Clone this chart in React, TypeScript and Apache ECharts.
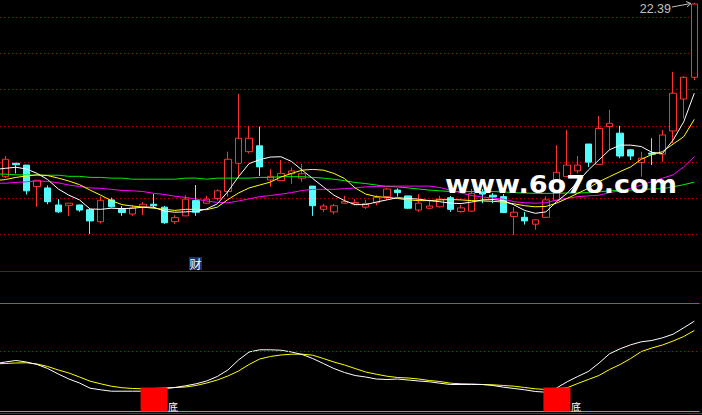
import React, { useEffect, useRef } from 'react';
import * as echarts from 'echarts';

// 66 trading days shown
const days: string[] = [
  'd01','d02','d03','d04','d05','d06','d07','d08','d09','d10',
  'd11','d12','d13','d14','d15','d16','d17','d18','d19','d20',
  'd21','d22','d23','d24','d25','d26','d27','d28','d29','d30',
  'd31','d32','d33','d34','d35','d36','d37','d38','d39','d40',
  'd41','d42','d43','d44','d45','d46','d47','d48','d49','d50',
  'd51','d52','d53','d54','d55','d56','d57','d58','d59','d60',
  'd61','d62','d63','d64','d65','d66'
];

const opens = [
  17.60,17.97,17.92,17.33,17.29,16.82,16.81,16.82,16.69,16.36,
  16.96,16.70,16.57,16.76,16.84,16.76,16.36,16.52,16.94,16.87,
  17.00,17.19,17.97,18.29,18.45,17.51,17.49,17.68,17.56,17.34,
  16.70,16.63,16.87,16.85,16.76,16.88,17.05,17.23,17.07,16.68,
  16.73,16.77,17.02,16.64,16.65,17.19,17.09,17.05,16.50,16.48,
  16.29,16.48,16.94,17.60,17.76,18.50,17.94,18.98,18.80,18.34,
  17.99,18.25,18.22,18.86,19.74,20.34
];
const closes = [
  18.08,17.93,17.21,17.50,16.91,16.63,16.87,16.68,16.38,16.95,
  16.77,16.61,16.74,16.84,16.80,16.33,16.47,16.98,16.62,16.98,
  17.21,18.08,18.66,18.66,17.87,17.61,17.69,17.76,17.68,16.80,
  16.79,16.80,16.91,16.89,16.86,17.03,17.26,17.16,16.73,16.87,
  16.79,16.98,16.70,16.74,17.14,17.12,17.04,16.61,16.62,16.38,
  16.41,16.96,17.72,17.92,17.92,18.00,18.93,19.07,18.17,18.17,
  18.11,18.22,18.75,19.90,20.34,22.36
];
const lows = [
  17.56,17.69,17.11,16.77,16.84,16.60,16.52,16.63,16.02,16.31,
  16.75,16.52,16.52,16.54,16.73,16.30,16.30,16.52,16.52,16.85,
  16.94,17.05,17.56,18.24,17.62,17.32,17.49,17.40,17.46,16.52,
  16.63,16.56,16.86,16.81,16.71,16.81,16.96,17.05,16.71,16.63,
  16.72,16.75,16.63,16.61,16.64,16.87,16.87,16.60,15.99,16.28,
  16.14,16.47,16.93,17.59,17.69,17.87,17.94,18.34,18.11,18.06,
  17.60,17.92,18.01,18.52,19.21,20.26
];
const highs = [
  18.17,17.98,17.92,17.51,17.36,16.98,16.87,16.83,16.72,17.05,
  17.02,16.79,16.82,16.90,17.12,16.79,16.54,17.09,17.37,17.07,
  17.25,18.29,19.88,19.00,18.98,17.81,18.06,17.85,17.95,17.34,
  16.85,16.85,17.07,16.98,16.96,17.09,17.29,17.28,17.07,17.12,
  16.97,17.07,17.07,16.82,17.26,17.26,17.15,17.12,16.76,16.63,
  16.42,17.05,18.47,18.89,18.17,18.50,19.27,19.44,19.00,18.36,
  18.29,18.66,18.89,20.49,20.37,22.39
];

// moving averages: first value belongs to the day before the visible window
const ma5 = [
  17.80,
  17.83,17.86,17.81,17.69,17.52,17.26,17.09,16.96,16.71,16.70,
  16.73,16.72,16.73,16.76,16.76,16.65,16.62,16.63,16.64,16.71,
  16.85,17.19,17.60,17.96,18.07,18.14,18.15,18.02,17.78,17.55,
  17.32,17.09,16.94,16.83,16.83,16.90,16.96,17.02,17.00,16.98,
  16.94,16.91,16.87,16.86,16.90,16.96,16.97,16.94,16.82,16.67,
  16.59,16.63,16.91,17.14,17.46,17.78,18.06,18.34,18.47,18.47,
  18.43,18.27,18.24,18.61,19.11,19.90
];
const ma10 = [
  17.49,
  17.52,17.58,17.62,17.65,17.63,17.56,17.48,17.38,17.23,17.09,
  16.94,16.83,16.79,16.76,16.73,16.70,16.67,16.70,16.70,16.69,
  16.76,16.97,17.15,17.29,17.37,17.45,17.59,17.69,17.78,17.80,
  17.78,17.69,17.55,17.29,17.12,17.05,17.03,17.00,16.96,16.94,
  16.94,16.96,16.97,16.96,16.94,16.93,16.92,16.90,16.85,16.80,
  16.77,16.78,16.87,17.00,17.14,17.28,17.46,17.60,17.74,17.87,
  18.08,18.21,18.29,18.50,18.70,19.18
];
const ma20 = [
  17.42,
  17.42,17.44,17.46,17.48,17.47,17.43,17.37,17.33,17.29,17.28,
  17.25,17.22,17.21,17.19,17.14,17.11,17.06,17.03,16.98,16.93,
  16.89,16.88,16.93,16.99,17.05,17.08,17.12,17.16,17.22,17.25,
  17.25,17.25,17.27,17.29,17.32,17.33,17.34,17.34,17.34,17.34,
  17.34,17.30,17.23,17.15,17.08,17.04,17.01,16.98,16.91,16.88,
  16.87,16.88,16.96,17.00,17.05,17.07,17.09,17.16,17.21,17.28,
  17.37,17.46,17.56,17.65,17.87,18.15
];
const ma60 = [
  17.67,
  17.67,17.65,17.65,17.64,17.64,17.64,17.61,17.61,17.58,17.58,
  17.56,17.56,17.53,17.53,17.53,17.53,17.53,17.56,17.56,17.53,
  17.56,17.56,17.56,17.56,17.58,17.58,17.60,17.60,17.60,17.58,
  17.56,17.53,17.49,17.44,17.41,17.37,17.33,17.32,17.29,17.26,
  17.23,17.21,17.19,17.19,17.19,17.19,17.19,17.18,17.16,17.15,
  17.14,17.14,17.14,17.15,17.15,17.16,17.18,17.21,17.22,17.23,
  17.25,17.26,17.27,17.32,17.38,17.45
];

// lower indicator
const fastLine = [
  39.75,
  41.25,42.5,41.25,39.17,35.83,31.25,27.08,23.75,19.42,18.08,
  16.92,16.92,16.92,16.92,17.92,19.17,20.0,21.42,23.08,25.42,
  29.17,34.58,42.92,49.58,51.42,51.42,51.08,49.58,47.5,44.17,
  40.0,35.83,32.5,30.0,28.75,27.08,26.67,27.08,26.25,25.42,
  24.75,23.58,22.5,22.5,22.5,22.5,21.67,20.25,19.17,18.08,
  16.67,16.08,19.58,24.75,29.17,33.33,40.25,48.08,52.25,55.58,
  58.08,59.17,61.42,64.42,69.75,75.25
];
const slowLine = [
  39.75,
  40.0,40.42,40.58,39.58,37.5,34.58,32.08,28.75,25.25,23.08,
  21.08,19.83,19.17,18.92,19.17,19.58,20.0,20.42,21.67,23.75,
  26.25,29.58,33.75,39.17,43.75,45.83,47.08,47.75,47.75,46.92,
  44.17,41.25,38.75,35.83,32.92,31.08,29.42,28.33,27.92,27.08,
  25.83,25.0,23.58,23.08,22.92,22.5,22.25,21.67,21.08,20.0,
  18.92,18.33,19.17,19.75,23.33,26.67,30.0,35.0,39.17,44.17,
  50.0,52.92,55.42,58.75,62.5,67.5
];
const lowerLevels = [90, 50, 0];
const signalDays = [13, 51];
const signalValues = [20, 20];
const signalText = '底';

const maxLabel = '22.39';
const watermark = 'www.6o7o.com';
const tagText = '财';

export default function App() {
  const ref = useRef<HTMLDivElement>(null);

  useEffect(() => {
    const chart = echarts.init(ref.current as HTMLDivElement, null, { renderer: 'svg' });
    const lineX = [-1, ...days.map((_, i) => i)];
    const mk = (arr: number[]) => lineX.map((x, i) => [x, arr[i]]);
    const mainLine = (name: string, arr: number[], color: string, z: number) => ({
      name, type: 'line', xAxisIndex: 1, yAxisIndex: 0, data: mk(arr),
      symbol: 'none', silent: true, lineStyle: { color, width: 1 }, z,
    });
    const lowLine = (name: string, arr: number[], color: string, z: number, extra: any = {}) => ({
      name, type: 'line', xAxisIndex: 2, yAxisIndex: 1, data: mk(arr),
      symbol: 'none', silent: true, lineStyle: { color, width: 1 }, z, ...extra,
    });
    const levelStyles = [
      { color: '#ff00ff', type: 'solid' },
      { color: '#c00000', type: [1, 3] },
      { color: '#00ff00', type: 'solid' },
    ];

    const option: any = {
      animation: false,
      backgroundColor: '#000000',
      grid: [
        { left: 0, right: 2.4, top: 0, height: 271 },
        { left: 0, right: 2.4, top: 271.5, height: 140 },
      ],
      xAxis: [
        { type: 'category', gridIndex: 0, data: days, boundaryGap: true, show: false },
        { type: 'value', gridIndex: 0, min: -0.5, max: 65.5, show: false, splitLine: { show: false } },
        { type: 'value', gridIndex: 1, min: -0.5, max: 65.5, show: false, splitLine: { show: false } },
      ],
      yAxis: [
        {
          type: 'value', gridIndex: 0, min: 15, max: 22.47, interval: 1,
          axisLine: { show: false }, axisTick: { show: false }, axisLabel: { show: false },
          splitLine: { show: true, showMinLine: false, showMaxLine: false, lineStyle: { color: '#c00000', type: [1, 3], width: 1 } },
        },
        { type: 'value', gridIndex: 1, min: 0, max: 116.67, show: false, splitLine: { show: false } },
      ],
      series: [
        {
          type: 'candlestick', xAxisIndex: 0, yAxisIndex: 0,
          data: days.map((_, i) => [opens[i], closes[i], lows[i], highs[i]]),
          barWidth: 7, silent: true,
          itemStyle: { color: '#000000', color0: '#54fcfc', borderColor: '#ff3232', borderColor0: '#54fcfc', borderWidth: 1 },
          z: 2,
        },
        mainLine('MA60', ma60, '#00ee00', 3),
        mainLine('MA20', ma20, '#ff00ff', 4),
        mainLine('MA10', ma10, '#ffff00', 5),
        mainLine('MA5', ma5, '#ffffff', 6),
        lowLine('slow', slowLine, '#ffff00', 3, {
          markLine: {
            silent: true, symbol: ['none', 'none'], label: { show: false },
            data: lowerLevels.map((v, k) => ({ yAxis: v, lineStyle: { ...levelStyles[k], width: 1 } })),
          },
        }),
        lowLine('fast', fastLine, '#ffffff', 4),
        {
          type: 'custom', xAxisIndex: 2, yAxisIndex: 1, silent: true, z: 10,
          data: signalDays.map((d, k) => [d, signalValues[k]]),
          renderItem: (params: any, api: any) => {
            const base = api.coord([api.value(0), 0]);
            const top = api.coord([api.value(0), api.value(1)]);
            const x0 = base[0] - 2.5;
            return {
              type: 'group',
              children: [
                { type: 'rect', shape: { x: x0, y: top[1], width: 27, height: base[1] - top[1] }, style: { fill: '#ff0000' } },
                {
                  type: 'text', x: x0 + 27.5, y: base[1],
                  style: { text: signalText, fill: '#ffffff', fontSize: 10, fontFamily: 'Noto Sans CJK SC', align: 'left', verticalAlign: 'bottom' },
                },
              ],
            };
          },
        },
      ],
      graphic: [
        { type: 'line', z: 20, shape: { x1: 0, y1: 271.5, x2: 702, y2: 271.5 }, style: { stroke: '#a00000', lineWidth: 1 } },
        { type: 'line', z: 20, shape: { x1: 0, y1: 413.5, x2: 702, y2: 413.5 }, style: { stroke: '#c00000', lineWidth: 1 } },
        {
          type: 'text', z: 30, x: 189, y: 257,
          style: { text: tagText, fill: '#ffffff', fontSize: 12, lineHeight: 13, fontFamily: 'Noto Sans CJK SC', backgroundColor: '#123466', padding: [0, 0.5], align: 'left', verticalAlign: 'top' },
        },
        {
          type: 'text', z: 30, x: 671, y: 8.5,
          style: { text: maxLabel, fill: '#c0c0c0', fontSize: 12.5, fontFamily: 'Liberation Sans', align: 'right', verticalAlign: 'middle' },
        },
        { type: 'polyline', z: 30, shape: { points: [[672, 7], [691, 3.5]] }, style: { stroke: '#c0c0c0', lineWidth: 1, fill: null } },
        { type: 'polyline', z: 30, shape: { points: [[686, 1.5], [691, 3.5], [687, 7]] }, style: { stroke: '#c0c0c0', lineWidth: 1, fill: null } },
        {
          type: 'text', z: 50, x: 445, y: 185, scaleX: 1.13,
          style: {
            text: watermark, fill: '#ffffff', fontSize: 24, fontWeight: 'bold', fontFamily: 'DejaVu Sans',
            align: 'left', verticalAlign: 'middle',
            textShadowColor: 'rgba(110,110,110,0.95)', textShadowOffsetX: 1.5, textShadowOffsetY: 1, textShadowBlur: 0,
          },
        },
      ],
    };
    chart.setOption(option);
    return () => chart.dispose();
  }, []);

  return (
    <div
      ref={ref}
      style={{ position: 'fixed', left: 0, top: 0, width: 702, height: 415, background: '#000' }}
    />
  );
}
